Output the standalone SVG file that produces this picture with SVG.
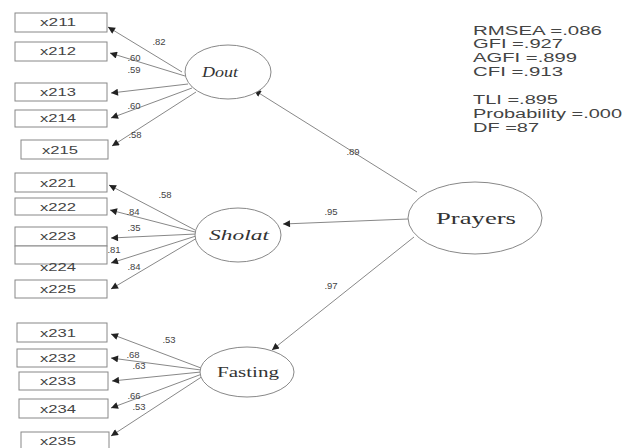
<svg xmlns="http://www.w3.org/2000/svg" width="623" height="448" viewBox="0 0 623 448">
<style>
.box{fill:#fff;stroke:#888;stroke-width:1}
.lat{fill:#fff;stroke:#888;stroke-width:1}
.bt{font-family:"Liberation Sans",Arial,sans-serif;font-size:11px;fill:#444;text-anchor:middle}
.lt{font-family:"Liberation Serif","Times New Roman",serif;fill:#333;text-anchor:middle}
.w{font-family:"Liberation Sans",Arial,sans-serif;font-size:9.5px;fill:#444;text-anchor:middle}
.fit{font-family:"Liberation Sans",Arial,sans-serif;font-size:12px;fill:#444}
.c line{stroke:#888;stroke-width:1;marker-end:url(#ah)}
</style>
<defs>
<marker id="ah" viewBox="0 0 10 10" refX="10" refY="5" markerWidth="9" markerHeight="7" markerUnits="userSpaceOnUse" orient="auto">
<path d="M0,0 L10,5 L0,10 z" fill="#222"/>
</marker>
</defs>
<rect width="623" height="448" fill="#fff"/>

<g id="connectors" class="c">
<line x1="182" y1="72" x2="108" y2="27"/>
<line x1="185" y1="76" x2="110" y2="53"/>
<line x1="188" y1="84" x2="111" y2="93"/>
<line x1="192" y1="88" x2="111" y2="118"/>
<line x1="196" y1="92" x2="112" y2="146"/>
<line x1="195" y1="230" x2="109" y2="185"/>
<line x1="195" y1="232" x2="110" y2="210"/>
<line x1="196" y1="234" x2="111" y2="238"/>
<line x1="196" y1="236" x2="111" y2="263"/>
<line x1="197" y1="238" x2="111" y2="289"/>
<line x1="201" y1="368" x2="111" y2="334"/>
<line x1="201" y1="370" x2="111" y2="358"/>
<line x1="201" y1="372" x2="112" y2="381"/>
<line x1="202" y1="374" x2="111" y2="408"/>
<line x1="203" y1="376" x2="111" y2="436"/>
<line x1="417" y1="192" x2="254" y2="90"/>
<line x1="408" y1="219" x2="283" y2="224"/>
<line x1="414" y1="237" x2="272" y2="350"/>
</g>

<g id="weights">
<text class="w" x="159" y="45">.82</text>
<text class="w" x="134" y="61">.60</text>
<text class="w" x="134" y="73">.59</text>
<text class="w" x="134" y="109">.60</text>
<text class="w" x="135" y="138">.58</text>
<text class="w" x="165" y="198">.58</text>
<text class="w" x="133" y="215">.84</text>
<text class="w" x="134" y="231">.35</text>
<text class="w" x="114" y="253">.81</text>
<text class="w" x="134" y="270">.84</text>
<text class="w" x="169" y="343">.53</text>
<text class="w" x="133" y="358">.68</text>
<text class="w" x="139" y="369">.63</text>
<text class="w" x="134" y="399">.66</text>
<text class="w" x="139" y="410">.53</text>
<text class="w" x="353" y="155">.89</text>
<text class="w" x="331" y="215">.95</text>
<text class="w" x="331" y="289">.97</text>
</g>

<g id="x211"><rect class="box" x="15" y="13" width="92" height="19"/><text class="bt" x="58" y="26" textLength="36" lengthAdjust="spacingAndGlyphs">x211</text></g>
<g id="x212"><rect class="box" x="15" y="42" width="92" height="19"/><text class="bt" x="58" y="55" textLength="36" lengthAdjust="spacingAndGlyphs">x212</text></g>
<g id="x213"><rect class="box" x="15" y="83" width="92" height="18"/><text class="bt" x="58" y="96" textLength="36" lengthAdjust="spacingAndGlyphs">x213</text></g>
<g id="x214"><rect class="box" x="15" y="110" width="92" height="17"/><text class="bt" x="58" y="122" textLength="36" lengthAdjust="spacingAndGlyphs">x214</text></g>
<g id="x215"><rect class="box" x="21" y="140" width="87" height="19"/><text class="bt" x="60" y="154" textLength="36" lengthAdjust="spacingAndGlyphs">x215</text></g>

<g id="x221"><rect class="box" x="15" y="173" width="92" height="19"/><text class="bt" x="58" y="187" textLength="36" lengthAdjust="spacingAndGlyphs">x221</text></g>
<g id="x222"><rect class="box" x="15" y="198" width="92" height="17"/><text class="bt" x="58" y="211" textLength="36" lengthAdjust="spacingAndGlyphs">x222</text></g>
<g id="x223"><rect class="box" x="15" y="227" width="92" height="19"/><text class="bt" x="58" y="240" textLength="36" lengthAdjust="spacingAndGlyphs">x223</text></g>
<g id="x224"><rect class="box" x="15" y="246" width="92" height="18"/><text class="bt" x="58" y="271" textLength="36" lengthAdjust="spacingAndGlyphs">x224</text></g>
<g id="x225"><rect class="box" x="15" y="280" width="92" height="18"/><text class="bt" x="58" y="293" textLength="36" lengthAdjust="spacingAndGlyphs">x225</text></g>

<g id="x231"><rect class="box" x="17" y="323" width="90" height="19"/><text class="bt" x="58" y="337" textLength="36" lengthAdjust="spacingAndGlyphs">x231</text></g>
<g id="x232"><rect class="box" x="17" y="349" width="90" height="18"/><text class="bt" x="58" y="362" textLength="36" lengthAdjust="spacingAndGlyphs">x232</text></g>
<g id="x233"><rect class="box" x="19" y="372" width="89" height="18"/><text class="bt" x="58" y="385" textLength="36" lengthAdjust="spacingAndGlyphs">x233</text></g>
<g id="x234"><rect class="box" x="19" y="399" width="89" height="19"/><text class="bt" x="58" y="413" textLength="36" lengthAdjust="spacingAndGlyphs">x234</text></g>
<g id="x235"><rect class="box" x="21" y="432" width="88" height="19"/><text class="bt" x="58" y="445" textLength="36" lengthAdjust="spacingAndGlyphs">x235</text></g>

<g id="Dout"><ellipse class="lat" cx="228" cy="72" rx="43" ry="27"/><text class="lt" x="220" y="77" font-size="15" font-style="italic" textLength="36" lengthAdjust="spacingAndGlyphs">Dout</text></g>
<g id="Sholat"><ellipse class="lat" cx="238" cy="235" rx="43" ry="27"/><text class="lt" x="239" y="240" font-size="15" font-style="italic" textLength="60" lengthAdjust="spacingAndGlyphs">Sholat</text></g>
<g id="Fasting"><ellipse class="lat" cx="247" cy="372" rx="47" ry="25"/><text class="lt" x="248" y="377" font-size="14" textLength="62" lengthAdjust="spacingAndGlyphs">Fasting</text></g>
<g id="Prayers"><ellipse class="lat" cx="475" cy="218" rx="67" ry="36"/><text class="lt" x="476" y="224" font-size="17" textLength="80" lengthAdjust="spacingAndGlyphs">Prayers</text></g>

<g id="fit">
<text class="fit" x="473" y="35" textLength="129" lengthAdjust="spacingAndGlyphs">RMSEA =.086</text>
<text class="fit" x="473" y="48" textLength="90" lengthAdjust="spacingAndGlyphs">GFI =.927</text>
<text class="fit" x="473" y="62" textLength="104" lengthAdjust="spacingAndGlyphs">AGFI =.899</text>
<text class="fit" x="473" y="76" textLength="90" lengthAdjust="spacingAndGlyphs">CFI =.913</text>
<text class="fit" x="473" y="104" textLength="85" lengthAdjust="spacingAndGlyphs">TLI =.895</text>
<text class="fit" x="473" y="118" textLength="149" lengthAdjust="spacingAndGlyphs">Probability =.000</text>
<text class="fit" x="473" y="132" textLength="66" lengthAdjust="spacingAndGlyphs">DF =87</text>
</g>
</svg>
